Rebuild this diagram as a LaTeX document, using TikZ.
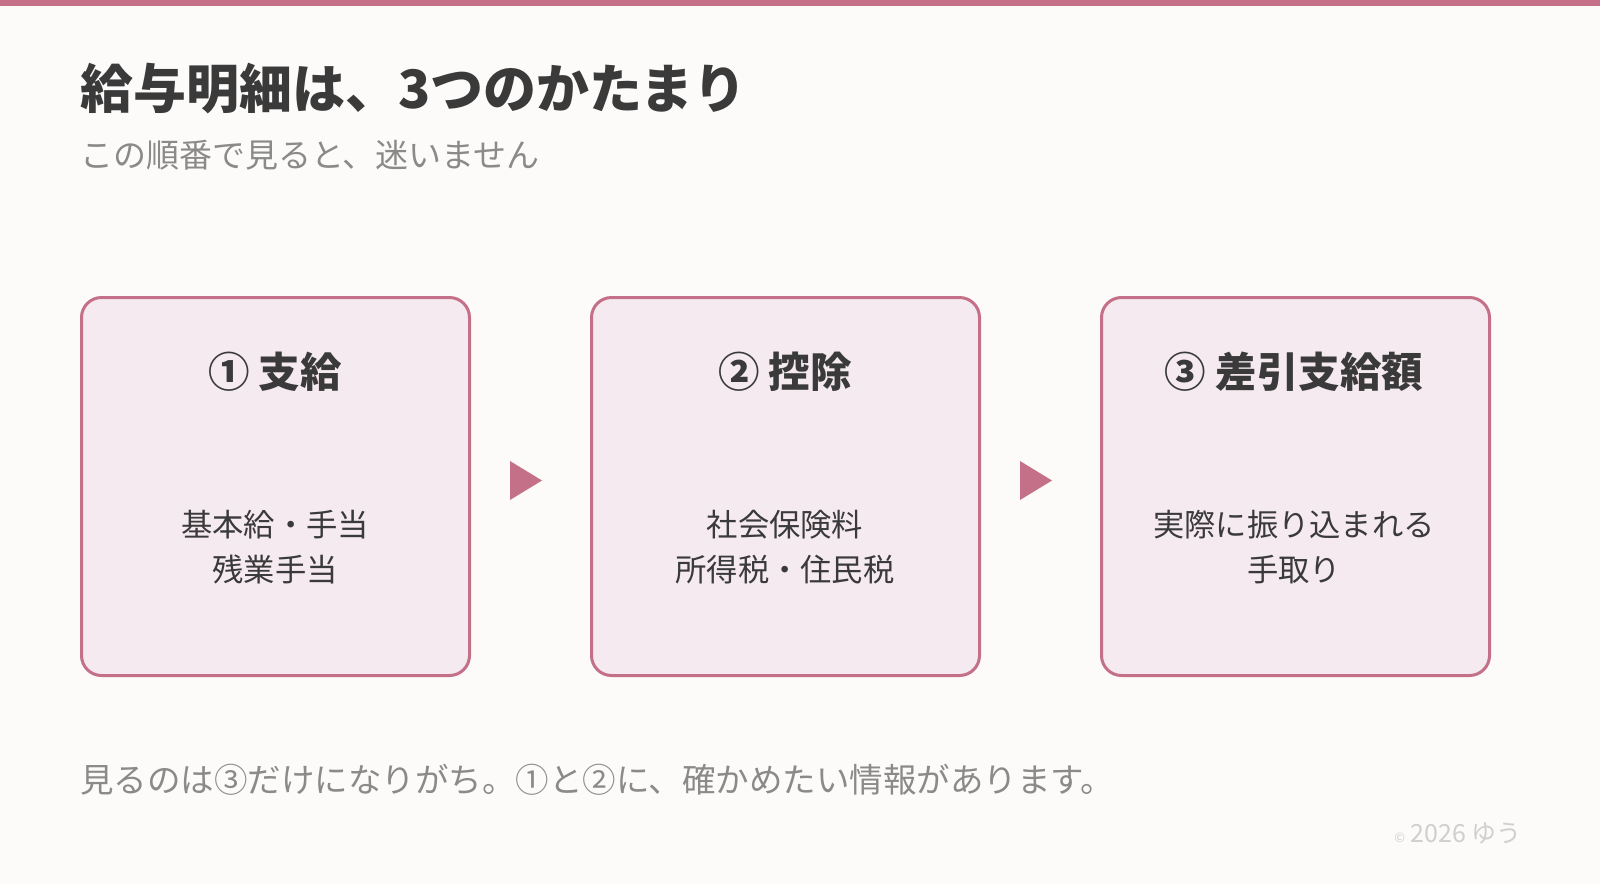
\documentclass[tikz,border=0pt]{standalone}
\usepackage{fontspec}
\setmainfont{Noto Sans CJK JP}
\begin{document}
\begin{tikzpicture}[x=1pt,y=-1pt,
  box/.style={draw=accent,line width=3pt,fill=boxfill,rounded corners=20pt,minimum width=388pt,minimum height=378pt,anchor=north west},
  head/.style={font=\fontsize{41.5}{48}\selectfont\bfseries,text=dark},
  body/.style={font=\fontsize{31.3}{45}\selectfont,text=dark,align=center},
  arr/.style={fill=accent}]
\definecolor{accent}{HTML}{C47088}
\definecolor{boxfill}{HTML}{F5EAF0}
\definecolor{bg}{HTML}{FDFBF9}
\definecolor{dark}{HTML}{3A3A3A}
\definecolor{gray}{HTML}{8A8A8A}
\definecolor{light}{HTML}{CFCFCF}
\fill[bg] (0,0) rectangle (1600,884);
\useasboundingbox (0,0) rectangle (1600,884);
\fill[accent] (0,0) rectangle (1600,6);
\node[anchor=base west,inner sep=0,font=\fontsize{53}{60}\selectfont\bfseries,text=dark] (title) at (80,108) {給与明細は、3つのかたまり};
\node[anchor=base west,inner sep=0,font=\fontsize{33}{40}\selectfont,text=gray] (sub) at (80,167) {この順番で見ると、迷いません};
\node[box] (b1) at (80,296) {};
\node[box] (b2) at (590,296) {};
\node[box] (b3) at (1100,296) {};
\node[head] (h1) at (275,372) {① 支給};
\node[head] (h2) at (785,372) {② 控除};
\node[head] (h3) at (1294,372) {③ 差引支給額};
\node[body] (t1) at (275,547) {基本給・手当\\残業手当};
\node[body] (t2) at (785,547) {社会保険料\\所得税・住民税};
\node[body] (t3) at (1294,547) {実際に振り込まれる\\手取り};
\fill[arr] (510,461) -- (542,480.5) -- (510,500) -- cycle;
\fill[arr] (1020,461) -- (1052,480.5) -- (1020,500) -- cycle;
\node[anchor=base west,inner sep=0,font=\fontsize{33.5}{40}\selectfont,text=gray] (foot) at (80,792) {見るのは③だけになりがち。①と②に、確かめたい情報があります。};
\node[anchor=base east,inner sep=0,font=\fontsize{25}{30}\selectfont,text=light] (copy) at (1522,842) {{\fontsize{13}{15}\selectfont ©} 2026 ゆう};
\end{tikzpicture}
\end{document}
